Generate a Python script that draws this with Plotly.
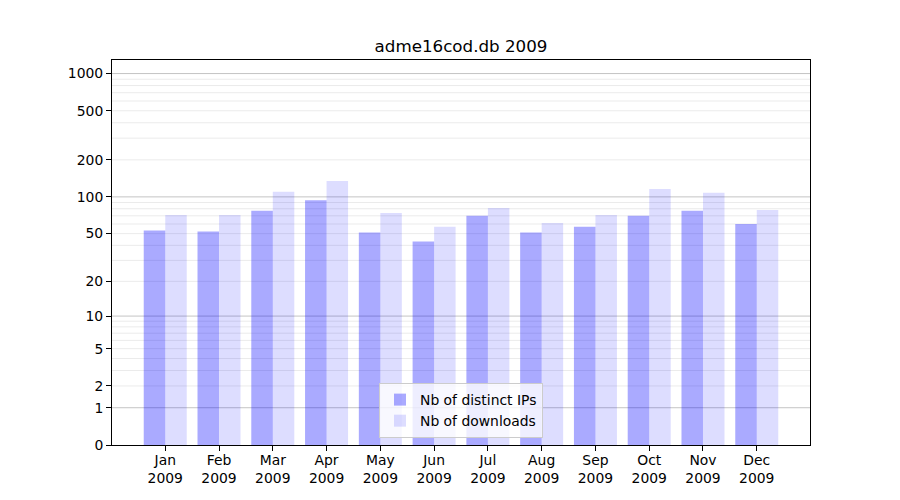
import numpy as np
import plotly.graph_objects as go

months = ["Jan", "Feb", "Mar", "Apr", "May", "Jun", "Jul", "Aug", "Sep", "Oct", "Nov", "Dec"]
year = "2009"
distinct_ips = [53, 52, 77, 94, 51, 43, 70, 51, 57, 70, 77, 60]
downloads = [71, 71, 110, 135, 74, 57, 81, 61, 71, 116, 108, 78]
y_tick_values = [0, 1, 2, 5, 10, 20, 50, 100, 200, 500, 1000]
major_grid_values = [1, 10, 100, 1000]
minor_grid_values = [d * m for d in (1, 10, 100) for m in range(2, 10)]


def symlog(v):
    return np.log10(1 + np.asarray(v, dtype=float))


x = list(range(len(months)))
xticktext = [f"{m}<br>{year}" for m in months]
FONT = "DejaVu Sans"

# the page body has an 8px margin, so the figure is sized to fit inside the window
W, H = 884, 484

fig = go.Figure()
fig.add_bar(x=x, y=symlog(distinct_ips), name="Nb of distinct IPs",
            marker=dict(color="rgba(0,0,255,0.333)", line=dict(width=0)),
            customdata=distinct_ips, hovertemplate="%{customdata}<extra>Nb of distinct IPs</extra>")
fig.add_bar(x=x, y=symlog(downloads), name="Nb of downloads",
            marker=dict(color="rgba(0,0,255,0.133)", line=dict(width=0)),
            customdata=downloads, hovertemplate="%{customdata}<extra>Nb of downloads</extra>")

shapes = []
for v in minor_grid_values:
    yy = float(symlog(v))
    shapes.append(dict(type="line", xref="x domain", yref="y", x0=0, x1=1, y0=yy, y1=yy,
                       line=dict(color="#ebebeb", width=1), layer="below"))
for v in major_grid_values:
    yy = float(symlog(v))
    shapes.append(dict(type="line", xref="x domain", yref="y", x0=0, x1=1, y0=yy, y1=yy,
                       line=dict(color="#c4c4c4", width=1), layer="below"))

fig.update_layout(
    width=W, height=H,
    margin=dict(l=104, r=82, t=52, b=47),
    paper_bgcolor="white", plot_bgcolor="white",
    font=dict(family=FONT, size=13.9, color="black"),
    barmode="group", bargap=0.2, bargroupgap=0,
    title=dict(text="adme16cod.db 2009", x=0.5, xref="paper", xanchor="center",
               y=1 - 38 / H, yref="container", yanchor="middle",
               font=dict(family=FONT, size=16.7, color="black")),
    shapes=shapes,
    showlegend=True,
    legend=dict(x=0.5, xanchor="center", y=0.018, yanchor="bottom",
                bgcolor="rgba(255,255,255,0.8)", bordercolor="#cccccc", borderwidth=1,
                font=dict(family=FONT, size=13.9, color="black")),
    xaxis=dict(range=[-0.99, 11.99], tickmode="array", tickvals=x, ticktext=xticktext,
               ticks="outside", ticklen=5, tickwidth=1, tickcolor="black",
               ticklabelstandoff=-3,
               showline=True, linecolor="black", linewidth=1, mirror=True,
               showgrid=False, zeroline=False, automargin=False),
    yaxis=dict(range=[0, 3.110], tickmode="array", tickvals=symlog(y_tick_values).tolist(),
               ticktext=[str(v) for v in y_tick_values],
               ticks="outside", ticklen=5, tickwidth=1, tickcolor="black",
               showline=True, linecolor="black", linewidth=1, mirror=True,
               showgrid=False, zeroline=False, automargin=False),
)

fig.write_html("out.html")
